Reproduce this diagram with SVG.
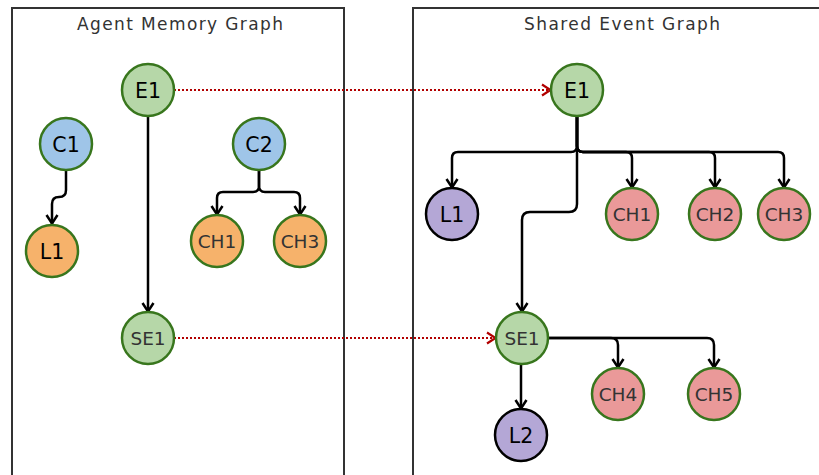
<svg xmlns="http://www.w3.org/2000/svg" width="819" height="475" viewBox="0 0 819 475">
<defs>
<style>
.panel{fill:#fff;stroke:#333;stroke-width:2}
.title{font-family:"DejaVu Sans",Verdana,sans-serif;font-size:17px;fill:#333;text-anchor:middle}
.n{stroke:#38761d;stroke-width:2.5}
.g{fill:#b6d7a8}.b{fill:#9fc5e8}.o{fill:#f6b26b}.r{fill:#ea9999}.p{fill:#b4a7d6;stroke:#000}
.t{font-family:"DejaVu Sans",Verdana,sans-serif;text-anchor:middle}
.big{font-size:20.5px;fill:#000}
.sm{font-size:18.5px;fill:#333}
.e{fill:none;stroke:#000;stroke-width:2.5;marker-end:url(#ah)}
.d{fill:none;stroke:#b20000;stroke-width:2.2;stroke-dasharray:2 2;marker-end:url(#ahr)}
</style>
<marker id="ah" viewBox="0 0 14 14" refX="12" refY="7" markerWidth="14" markerHeight="14" markerUnits="userSpaceOnUse" orient="auto" overflow="visible">
<path d="M3,1.5 L11.5,7 L3,12.5" fill="none" stroke="#000" stroke-width="2.5"/>
</marker>
<marker id="ahr" viewBox="0 0 14 14" refX="12" refY="7" markerWidth="14" markerHeight="14" markerUnits="userSpaceOnUse" orient="auto" overflow="visible">
<path d="M3,1.5 L11.5,7 L3,12.5" fill="none" stroke="#b20000" stroke-width="2.2"/>
</marker>
</defs>
<rect width="819" height="475" fill="#fff"/>
<g id="panel-agent">
<rect class="panel" x="12" y="8" width="332" height="490"/>
<text class="title" x="180" y="30" textLength="206" lengthAdjust="spacing">Agent Memory Graph</text>
</g>
<g id="panel-shared">
<rect class="panel" x="413" y="8" width="430" height="490"/>
<text class="title" x="622" y="30" textLength="196" lengthAdjust="spacing">Shared Event Graph</text>
</g>
<g id="connectors">
<path class="e" d="M148,116 V312"/>
<path class="e" d="M66,170 V190 Q66,197 59,197 Q52,197 52,204 V224"/>
<path class="e" d="M259,170 V186 Q259,192 253,192 H223 Q217,192 217,198 V215"/>
<path class="e" d="M259,170 V186 Q259,192 265,192 H294 Q300,192 300,198 V215"/>
<path class="d" d="M174,90 H551"/>
<path class="d" d="M174,338 H496"/>
<path class="e" d="M577,116 V146 Q577,152 571,152 H458 Q452,152 452,158 V188"/>
<path class="e" d="M577,116 V146 Q577,152 583,152 H626 Q632,152 632,158 V188"/>
<path class="e" d="M577,116 V146 Q577,152 583,152 H709 Q715,152 715,158 V188"/>
<path class="e" d="M577,116 V146 Q577,152 583,152 H778 Q784,152 784,158 V188"/>
<path class="e" d="M577,116 V204 Q577,212 569,212 H530 Q522,212 522,220 V312"/>
<path class="e" d="M548,338 H611 Q618,338 618,345 V368"/>
<path class="e" d="M548,338 H707 Q714,338 714,345 V368"/>
<path class="e" d="M521,364 V409"/>
</g>
<g id="a-E1"><circle class="n g" cx="148" cy="90" r="26"/><text class="t big" x="148" y="97.5">E1</text></g>
<g id="a-C1"><circle class="n b" cx="66" cy="144" r="26"/><text class="t big" x="66" y="151.5">C1</text></g>
<g id="a-C2"><circle class="n b" cx="259" cy="144" r="26"/><text class="t big" x="259" y="151.5">C2</text></g>
<g id="a-L1"><circle class="n o" cx="52" cy="251" r="26"/><text class="t big" x="52" y="258.5">L1</text></g>
<g id="a-CH1"><circle class="n o" cx="217" cy="241" r="26"/><text class="t sm" x="217" y="247.5">CH1</text></g>
<g id="a-CH3"><circle class="n o" cx="300" cy="241" r="26"/><text class="t sm" x="300" y="247.5">CH3</text></g>
<g id="a-SE1"><circle class="n g" cx="148" cy="338" r="26"/><text class="t sm" x="148" y="344.5">SE1</text></g>
<g id="s-E1"><circle class="n g" cx="577" cy="90" r="26"/><text class="t big" x="577" y="97.5">E1</text></g>
<g id="s-L1"><circle class="n p" cx="452" cy="214" r="26"/><text class="t big" x="452" y="221.5">L1</text></g>
<g id="s-CH1"><circle class="n r" cx="632" cy="214" r="26"/><text class="t sm" x="632" y="220.5">CH1</text></g>
<g id="s-CH2"><circle class="n r" cx="715" cy="214" r="26"/><text class="t sm" x="715" y="220.5">CH2</text></g>
<g id="s-CH3"><circle class="n r" cx="784" cy="214" r="26"/><text class="t sm" x="784" y="220.5">CH3</text></g>
<g id="s-SE1"><circle class="n g" cx="522" cy="338" r="26"/><text class="t sm" x="522" y="344.5">SE1</text></g>
<g id="s-CH4"><circle class="n r" cx="618" cy="394" r="26"/><text class="t sm" x="618" y="400.5">CH4</text></g>
<g id="s-CH5"><circle class="n r" cx="714" cy="394" r="26"/><text class="t sm" x="714" y="400.5">CH5</text></g>
<g id="s-L2"><circle class="n p" cx="521" cy="435" r="26"/><text class="t big" x="521" y="442.5">L2</text></g>
</svg>
